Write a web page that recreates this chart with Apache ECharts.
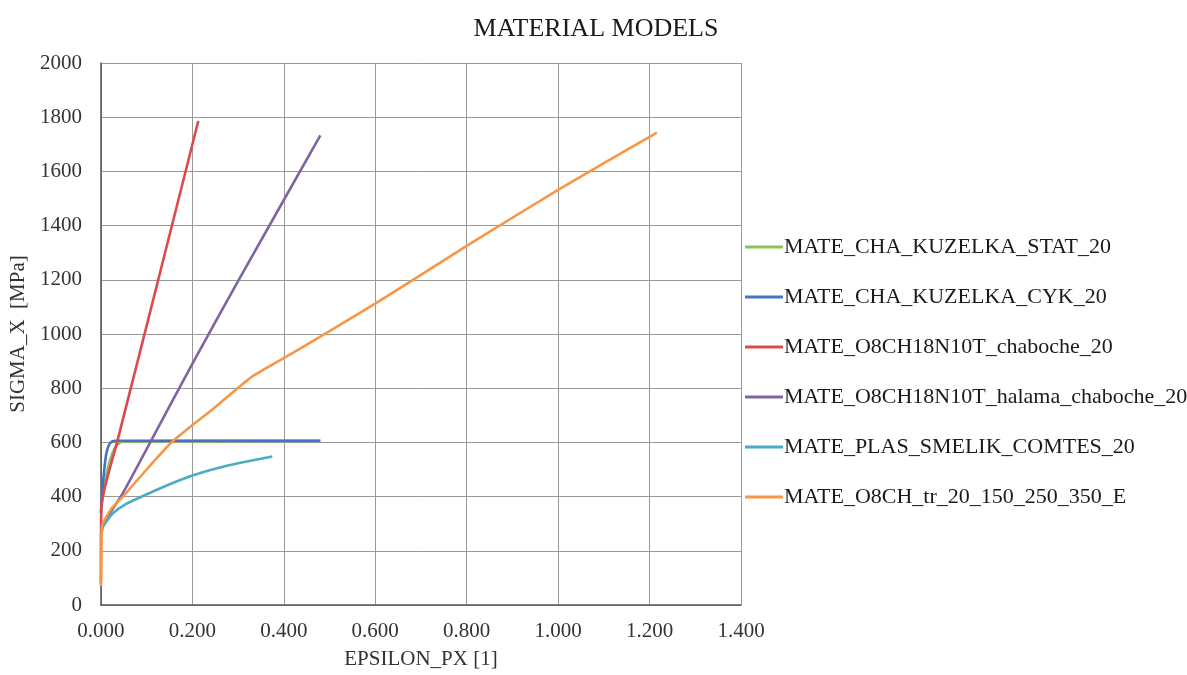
<!DOCTYPE html>
<html>
<head>
<meta charset="utf-8">
<script src="https://cdn.jsdelivr.net/npm/echarts@6/dist/echarts.min.js"></script>
<style>
  html, body { margin: 0; padding: 0; background: #fff; }
  #chart { width: 1187px; height: 675px; }
</style>
</head>
<body>
<div id="chart"></div>
<script>
// strain / stress curves
var seriesNames = [
  'MATE_CHA_KUZELKA_STAT_20',
  'MATE_CHA_KUZELKA_CYK_20',
  'MATE_O8CH18N10T_chaboche_20',
  'MATE_O8CH18N10T_halama_chaboche_20',
  'MATE_PLAS_SMELIK_COMTES_20',
  'MATE_O8CH_tr_20_150_250_350_E'
];
var colors = ['#8DC15A', '#4472C4', '#DA4A4F', '#8064A2', '#4BACC6', '#F79646'];

var statEps = [0, 0.005, 0.01, 0.02, 0.03, 0.04, 0.05, 0.48];
var statSig = [340, 410, 465, 535, 578, 597, 604, 606];

var cykEps = [0, 0.004, 0.008, 0.012, 0.018, 0.024, 0.032, 0.48];
var cykSig = [340, 440, 510, 560, 592, 603, 606, 606];

var chabEps = [0, 0.001, 0.037, 0.1, 0.213];
var chabSig = [80, 362, 611, 1030, 1786];

var halEps = [0, 0.01, 0.047, 0.1, 0.2, 0.3, 0.48];
var halSig = [285, 314, 410, 575, 890, 1195, 1733];

var smelEps = [0, 0.005, 0.026, 0.05, 0.092, 0.157, 0.2, 0.25, 0.3, 0.375];
var smelSig = [250, 290, 338, 368, 402, 450, 478, 503, 523, 548];

var trEps = [0, 0.001, 0.002, 0.01, 0.025, 0.048, 0.1, 0.157, 0.25, 0.33, 0.42, 0.6, 0.8, 1.0, 1.216];
var trSig = [70, 180, 290, 320, 360, 400, 500, 604, 730, 842, 930, 1112, 1325, 1532, 1743];

var xTicks = [0, 0.2, 0.4, 0.6, 0.8, 1.0, 1.2, 1.4];
var yTicks = [0, 200, 400, 600, 800, 1000, 1200, 1400, 1600, 1800, 2000];

function zip(xs, ys) {
  var out = [];
  for (var i = 0; i < xs.length; i++) out.push([xs[i], ys[i]]);
  return out;
}

var curves = [
  zip(statEps, statSig),
  zip(cykEps, cykSig),
  zip(chabEps, chabSig),
  zip(halEps, halSig),
  zip(smelEps, smelSig),
  zip(trEps, trSig)
];

var font = '"Liberation Serif", "Times New Roman", serif';
var chart = echarts.init(document.getElementById('chart'));

var series = [];
for (var i = 0; i < seriesNames.length; i++) {
  series.push({
    name: seriesNames[i],
    type: 'line',
    data: curves[i],
    showSymbol: false,
    smooth: 0.2,
    z: i === 0 ? 1 : 2,
    lineStyle: { width: 2.6, color: colors[i] },
    itemStyle: { color: colors[i] }
  });
}

chart.setOption({
  animation: false,
  color: colors,
  title: {
    text: 'MATERIAL MODELS',
    left: 591,
    textAlign: 'center',
    top: 11,
    textStyle: { fontFamily: font, fontSize: 26, fontWeight: 'normal', color: '#1a1a1a' }
  },
  grid: { left: 100, right: 446, top: 63, bottom: 67 },
  legend: {
    orient: 'vertical',
    left: 740,
    top: 231,
    itemWidth: 38,
    itemHeight: 3,
    itemGap: 28,
    icon: 'rect',
    textStyle: { fontFamily: font, fontSize: 22, color: '#1a1a1a', padding: [0, 0, 0, -4] },
    data: seriesNames
  },
  xAxis: {
    type: 'value',
    min: 0,
    max: 1.4,
    interval: 0.2,
    name: 'EPSILON_PX [1]',
    nameLocation: 'middle',
    nameGap: 44,
    nameTextStyle: { fontFamily: font, fontSize: 21, color: '#333' },
    axisLine: { show: true, lineStyle: { color: '#555', width: 1.5 } },
    axisTick: { show: false },
    axisLabel: {
      fontFamily: font, fontSize: 21, color: '#333', margin: 16,
      formatter: function (v) { return v.toFixed(3); }
    },
    splitLine: { show: true, lineStyle: { color: '#999', width: 1 } }
  },
  yAxis: {
    type: 'value',
    min: 0,
    max: 2000,
    interval: 200,
    name: 'SIGMA_X  [MPa]',
    nameLocation: 'middle',
    nameGap: 67,
    nameTextStyle: { fontFamily: font, fontSize: 21, color: '#333' },
    axisLine: { show: true, lineStyle: { color: '#555', width: 1.5 } },
    axisTick: { show: false },
    axisLabel: {
      fontFamily: font, fontSize: 21, color: '#333', margin: 19,
      formatter: function (v) { return String(v); }
    },
    splitLine: { show: true, lineStyle: { color: '#999', width: 1 } }
  },
  series: series
});
</script>
</body>
</html>
